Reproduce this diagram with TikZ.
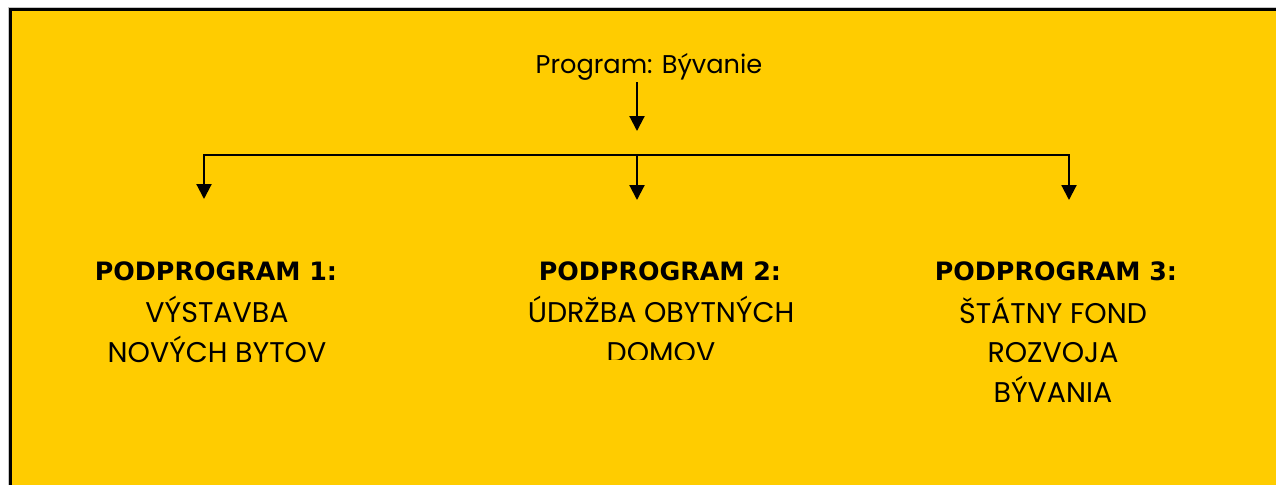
\documentclass[tikz,border=0pt]{standalone}
\usepackage{fontspec}
\setmainfont{Poppins}
\newfontfamily\headfont{DejaVu Sans}
\usetikzlibrary{arrows.meta}

\definecolor{gold}{RGB}{255,204,0}

\tikzset{
    arr/.style={line width=1.2pt,-{Triangle[length=8.5pt,width=8.5pt]}},
    plain/.style={font=\fontsize{14.6}{22.4}\selectfont, inner sep=1pt},
    head/.style={font=\headfont\bfseries\fontsize{14.4}{22.4}\selectfont, inner sep=0pt, anchor=base},
    body/.style={font=\fontsize{16.2}{22.4}\selectfont, align=center, inner sep=0pt, anchor=base}
}

\begin{document}
\begin{tikzpicture}[x=0.02cm,y=-0.02cm]
    \useasboundingbox[fill=white] (0,0) rectangle (1276,485);
    \fill[gold] (11,10) rectangle (1276,485);
    \draw[gray!45,line width=0.6pt] (8.3,485) -- (8.3,7.3) -- (1276,7.3);
    \draw[line width=2pt] (10.7,485) -- (10.7,9.7) -- (1276,9.7);

    \coordinate (split) at (637,155);
    \coordinate (tip1) at (204,199);
    \coordinate (tip2) at (637,200);
    \coordinate (tip3) at (1069,200);
    \coordinate (join) at (637,131);

    \node[plain,anchor=base] (program) at (649,73) {Program: Bývanie};

    \draw[arr] (program.south -| join) -- (join);
    \draw[arr] (split) -| (tip1);
    \draw[arr] (split) -| (tip3);
    \draw[arr] (split) -- (tip2);

    % headings
    \node[head] (head1) at (216,280) {PODPROGRAM 1:};
    \node[head] (head2) at (660,280) {PODPROGRAM 2:};
    \node[head] (head3) at (1056,280) {PODPROGRAM 3:};

    % base anchor sits on the last line
    \node[body] (sub1) at (217,362) {VÝSTAVBA\\NOVÝCH BYTOV};
    \begin{scope}
        \clip (470,230) rectangle (850,359);
        \node[body] (sub2) at (661,362) {ÚDRŽBA OBYTNÝCH\\DOMOV};
    \end{scope}
    \node[body] (sub3) at (1053,402) {ŠTÁTNY FOND\\ROZVOJA\\BÝVANIA};
\end{tikzpicture}
\end{document}
